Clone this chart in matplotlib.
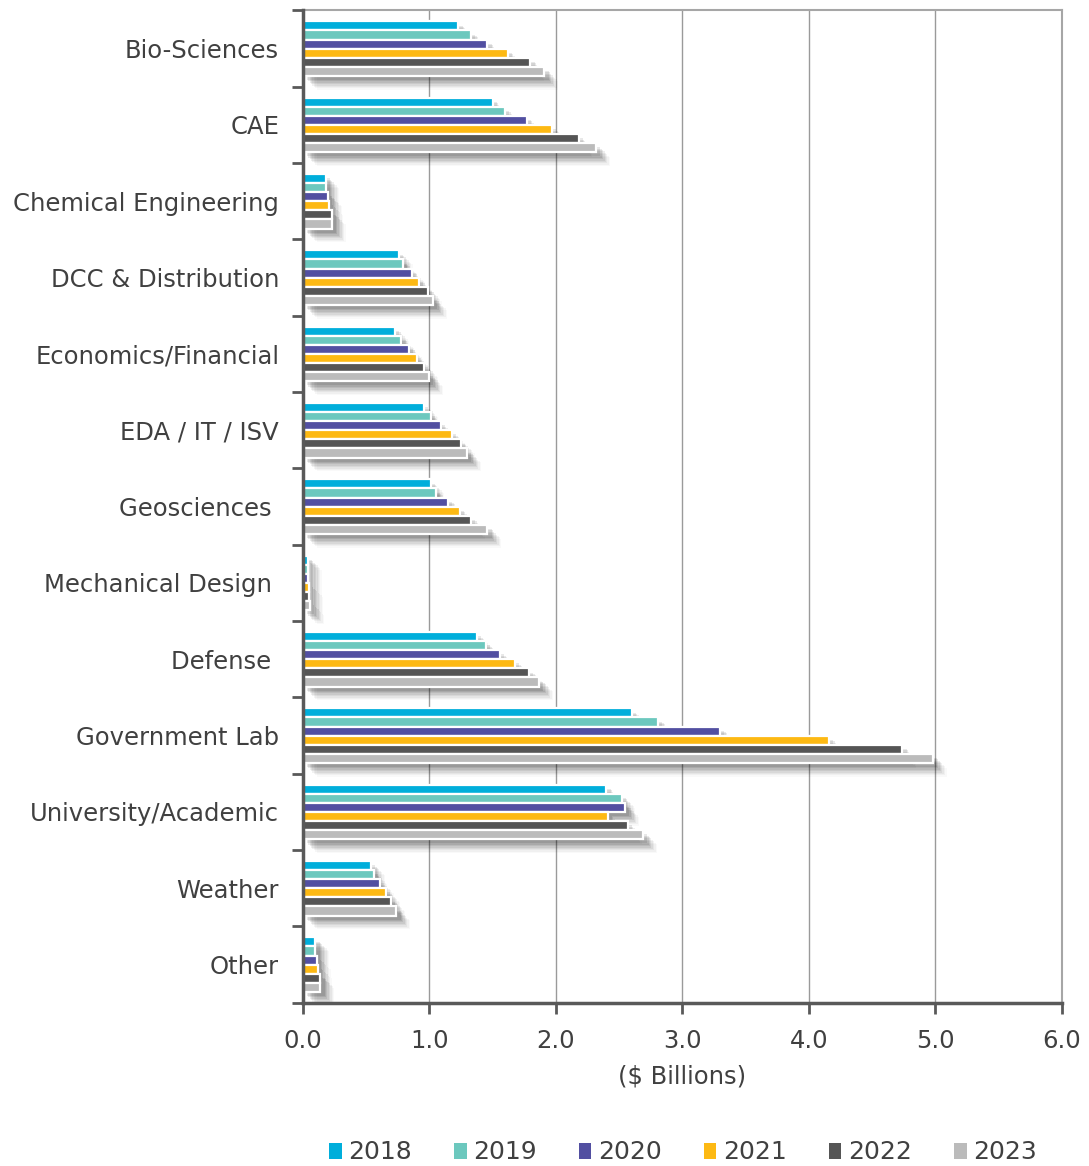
import matplotlib
matplotlib.use("Agg")
import matplotlib.pyplot as plt
import matplotlib.patheffects as pe
import numpy as np

categories = ["Bio-Sciences", "CAE", "Chemical Engineering", "DCC & Distribution",
              "Economics/Financial", "EDA / IT / ISV", "Geosciences ", "Mechanical Design ",
              "Defense ", "Government Lab", "University/Academic", "Weather", "Other"]
years = ["2018", "2019", "2020", "2021", "2022", "2023"]
colors = ["#00AEDB", "#6CC8BE", "#524FA1", "#FDB913", "#555555", "#BBBBBB"]

v2018 = [1.23, 1.50, 0.18, 0.76, 0.73, 0.96, 1.01, 0.04, 1.38, 2.60, 2.40, 0.54, 0.10]
v2019 = [1.33, 1.60, 0.18, 0.79, 0.78, 1.01, 1.05, 0.04, 1.45, 2.81, 2.52, 0.56, 0.10]
v2020 = [1.46, 1.77, 0.20, 0.86, 0.84, 1.09, 1.15, 0.04, 1.56, 3.30, 2.55, 0.61, 0.11]
v2021 = [1.62, 1.97, 0.21, 0.92, 0.90, 1.18, 1.24, 0.05, 1.68, 4.16, 2.41, 0.66, 0.12]
v2022 = [1.80, 2.18, 0.23, 0.99, 0.96, 1.25, 1.33, 0.05, 1.79, 4.74, 2.57, 0.70, 0.14]
v2023 = [1.91, 2.32, 0.23, 1.03, 1.00, 1.30, 1.46, 0.06, 1.87, 4.98, 2.69, 0.74, 0.14]
series = [v2018, v2019, v2020, v2021, v2022, v2023]

xticks = [0, 1, 2, 3, 4, 5, 6]
xticklabels = ["0.0", "1.0", "2.0", "3.0", "4.0", "5.0", "6.0"]

plt.rcParams["font.family"] = ["DejaVu Sans"]
txt = "#404040"

fig = plt.figure(figsize=(10.89, 11.66), dpi=100)
ax = fig.add_axes([0.278, 0.140, 0.697, 0.851])

n = len(categories)
y = np.arange(n)
slot = 0.119
bh = 0.119
shadow_only = [pe.SimplePatchShadow(offset=(o, -o), shadow_rgbFace="#000000", alpha=a)
               for o, a in [(10, 0.025), (9, 0.035), (8, 0.045), (7, 0.055),
                            (6, 0.065), (5, 0.075), (4, 0.085), (3, 0.09)]]

# shadow layer underneath all bars
for i, vals in enumerate(series):
    pos = y + (i - 2.5) * slot
    sh = ax.barh(pos, vals, height=bh, color="white", edgecolor="none", zorder=2)
    for b in sh:
        b.set_path_effects(shadow_only)

for i, (vals, c, yr) in enumerate(zip(series, colors, years)):
    pos = y + (i - 2.5) * slot
    ax.barh(pos, vals, height=bh, color=c, edgecolor="white", linewidth=1.6,
            label=yr, zorder=3)

ax.set_ylim(n - 0.5, -0.5)
ax.set_xlim(0, 6)
ax.set_yticks(y)
ax.set_yticklabels(categories, fontsize=17.5, color=txt)
ax.set_yticks(np.arange(n + 1) - 0.5, minor=True)
ax.tick_params(axis="y", which="major", length=0, pad=17)
ax.tick_params(axis="y", which="minor", length=8, width=2, color="#595959", direction="out")
ax.set_xticks(xticks)
ax.set_xticklabels(xticklabels, fontsize=17.5, color=txt)
ax.tick_params(axis="x", length=8, width=2, color="#595959", direction="out", pad=11)
ax.set_xlabel("($ Billions)", fontsize=17.5, color=txt, labelpad=8)

ax.grid(axis="x", color="#9a9a9a", linewidth=1.0, zorder=0)
ax.set_axisbelow(True)
for s in ["left", "bottom"]:
    ax.spines[s].set_color("#595959")
    ax.spines[s].set_linewidth(2.5)
    ax.spines[s].set_zorder(5)
for s in ["top", "right"]:
    ax.spines[s].set_color("#a6a6a6")
    ax.spines[s].set_linewidth(1.5)

leg = fig.legend(loc="lower center", bbox_to_anchor=(0.627, -0.018), ncol=6, frameon=False,
                 fontsize=18, handlelength=0.5, handleheight=0.6, handletextpad=0.25,
                 columnspacing=1.7, labelcolor=txt)
for h in leg.legend_handles:
    h.set_linewidth(0)

fig.savefig("out.png", dpi=100)
